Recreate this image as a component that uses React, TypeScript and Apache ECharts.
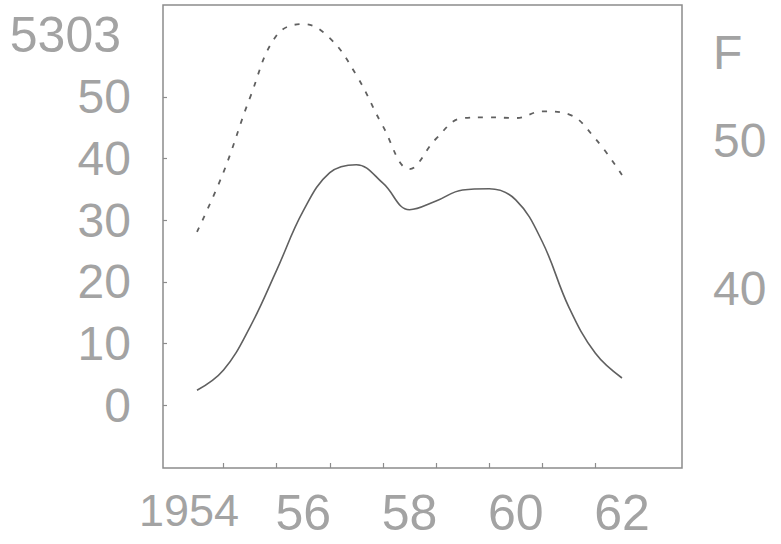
import React, { useEffect, useRef } from "react";
import * as echarts from "echarts";

const years = [1954, 1954.5, 1955, 1955.5, 1956, 1956.5, 1957, 1957.5, 1958, 1958.5, 1959, 1959.5, 1960, 1960.5, 1961, 1961.5, 1962];
const solidValues = [2.4, 5.7, 12.7, 21.9, 31.5, 37.7, 39.0, 36.0, 31.7, 33.1, 34.9, 35.1, 33.3, 26.5, 15.9, 8.4, 4.4];
const dashedValues = [43.85, 47.9, 52.95, 57.15, 57.9, 56.95, 54.45, 51.0, 48.1, 50.15, 51.55, 51.6, 51.55, 52.0, 51.8, 50.15, 47.7];

const xLabelValues = [1954, 1956, 1958, 1960, 1962];
const xTickValues = [1954.5, 1955.5, 1956.5, 1957.5, 1958.5, 1959.5, 1960.5, 1961.5];
const leftLabelValues = [0, 10, 20, 30, 40, 50, 60];
const rightLabelValues = [40, 50, 56];

const TEXT = "#a3a3a3";
const FONT = "'Liberation Sans Narrow', 'Liberation Sans', sans-serif";

export default function App() {
  const ref = useRef<HTMLDivElement>(null);
  useEffect(() => {
    if (!ref.current) return;
    const chart = echarts.init(ref.current, null, { renderer: "svg" });
    chart.setOption({
      animation: false,
      backgroundColor: "#ffffff",
      grid: {
        left: 163,
        right: 99,
        top: 5,
        bottom: 76,
        show: true,
        borderColor: "#8c8c8c",
        borderWidth: 1.5,
        backgroundColor: "transparent",
      },
      xAxis: {
        type: "value",
        min: 1953.36,
        max: 1963.13,
        axisLine: { show: false, onZero: false },
        splitLine: { show: false },
        axisTick: {
          show: true,
          inside: true,
          length: 5,
          customValues: xTickValues,
          lineStyle: { color: "#8c8c8c", width: 1.2 },
        },
        axisLabel: {
          customValues: xLabelValues,
          margin: 20,
          color: TEXT,
          fontFamily: FONT,
          fontSize: 50,
          formatter: (v: number) => (v === 1954 ? "{yr|1954}" : String(v).slice(2)),
          rich: { yr: { fontSize: 45, fontFamily: FONT, color: TEXT, padding: [0, 16, 0, 0] } },
        },
      },
      yAxis: [
        {
          type: "value",
          position: "left",
          min: -10.2,
          max: 64.9,
          axisLine: { show: false },
          splitLine: { show: false },
          axisTick: {
            show: true,
            inside: true,
            length: 4,
            customValues: [0, 10, 20, 30, 40, 50],
            lineStyle: { color: "#8c8c8c", width: 1.2 },
          },
          axisLabel: {
            customValues: leftLabelValues,
            margin: 32,
            color: TEXT,
            fontFamily: FONT,
            fontSize: 48,
            formatter: (v: number) => (v === 60 ? "{big|5303}" : String(v)),
            rich: { big: { fontSize: 50, fontFamily: FONT, color: TEXT, padding: [0, 10, 0, 0] } },
          },
        },
        {
          type: "value",
          position: "right",
          min: 27.9,
          max: 59.19,
          axisLine: { show: false },
          splitLine: { show: false },
          axisTick: { show: false },
          axisLabel: {
            customValues: rightLabelValues,
            margin: 31,
            color: TEXT,
            fontFamily: FONT,
            fontSize: 48,
            formatter: (v: number) => (v === 56 ? "F" : String(v)),
          },
        },
      ],
      series: [
        {
          type: "line",
          yAxisIndex: 0,
          smooth: 0.4,
          showSymbol: false,
          data: years.map((y, i) => [y, solidValues[i]]),
          lineStyle: { color: "#606060", width: 1.6, type: "solid" },
        },
        {
          type: "line",
          yAxisIndex: 1,
          smooth: 0.4,
          showSymbol: false,
          data: years.map((y, i) => [y, dashedValues[i]]),
          lineStyle: { color: "#606060", width: 1.8, type: [5, 8] },
        },
      ],
    });
    return () => chart.dispose();
  }, []);
  return (
    <div
      ref={ref}
      style={{ position: "fixed", left: 0, top: 0, width: 781, height: 544, background: "#fff" }}
    />
  );
}
